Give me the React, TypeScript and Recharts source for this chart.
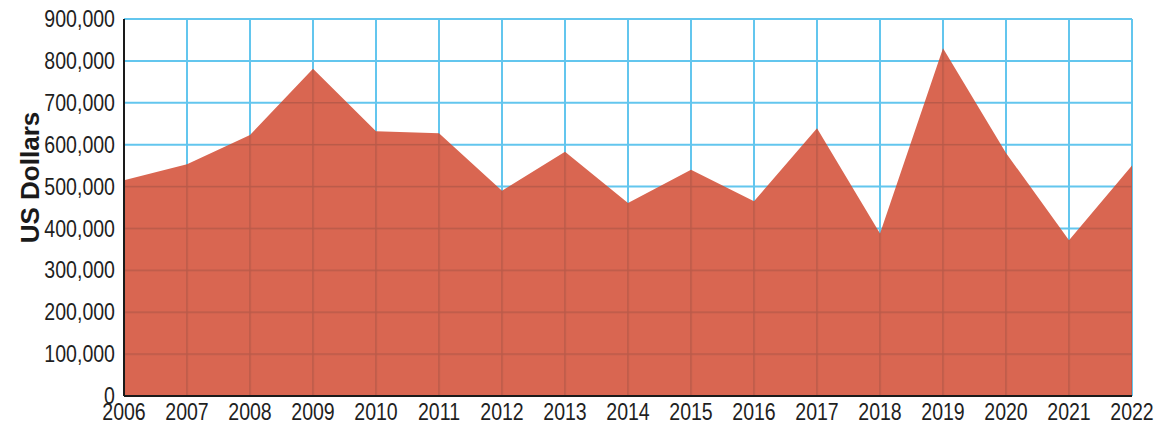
import React from "react";
import { AreaChart, Area, XAxis, YAxis, CartesianGrid } from "recharts";

const years = [
  "2006", "2007", "2008", "2009", "2010", "2011", "2012", "2013", "2014",
  "2015", "2016", "2017", "2018", "2019", "2020", "2021", "2022",
];
const dollars = [
  515000, 553000, 623000, 781000, 632000, 627000, 490000, 583000, 461000,
  540000, 465000, 639000, 388000, 830000, 580000, 372000, 550000,
];
const yTicks = [0, 100000, 200000, 300000, 400000, 500000, 600000, 700000, 800000, 900000];

const data = years.map((year, i) => ({ year, value: dollars[i] }));

const W = 1150;
const H = 420;
const M = { top: 11, right: 26, bottom: 0, left: 0 };
const Y_W = 116;
const X_H = 32;
const PW = W - M.left - M.right - Y_W;
const PH = H - M.top - M.bottom - X_H;
const CELL_W = PW / (years.length - 1);
const CELL_H = PH / (yTicks.length - 1);

const FILL = "#d96651";
const INNER_LINE = "#b95a49";
const GRID = "#63c6ee";
const FONT = "'Liberation Sans', Arial, sans-serif";
const SQUEEZE = 0.85;

const fmt = (v: number) => v.toLocaleString("en-US");

// condensed look: regular sans squeezed horizontally
const NarrowTick = ({ x, y, payload, textAnchor, dy, format }: any) => (
  <g transform={`translate(${x},${y})`}>
    <text
      transform={`scale(${SQUEEZE},1)`}
      textAnchor={textAnchor}
      dy={dy}
      fontFamily={FONT}
      fontSize={23}
      fill="#1f1f1f"
    >
      {format ? format(payload.value) : payload.value}
    </text>
  </g>
);

const AxisTitle = ({ viewBox }: any) => {
  const cx = viewBox.x + 22;
  const cy = viewBox.y + viewBox.height / 2 - 30;
  return (
    <text
      x={cx}
      y={cy}
      transform={`rotate(-90, ${cx}, ${cy})`}
      textAnchor="middle"
      dominantBaseline="central"
      fontFamily={FONT}
      fontWeight="bold"
      fontSize={26}
      fill="#1a1a1a"
    >
      US Dollars
    </text>
  );
};

export default function App() {
  return (
    <div style={{ width: W, height: H, background: "#fff" }}>
      <AreaChart width={W} height={H} data={data} margin={M} style={{ overflow: "visible" }}>
        <defs>
          <pattern
            id="areaGrid"
            patternUnits="userSpaceOnUse"
            x={M.left + Y_W - 0.75}
            y={M.top - 0.75}
            width={CELL_W}
            height={CELL_H}
          >
            <rect x={0} y={0} width={CELL_W} height={CELL_H} fill={FILL} />
            <rect x={0} y={0} width={1.5} height={CELL_H} fill={INNER_LINE} />
            <rect x={0} y={0} width={CELL_W} height={1.5} fill={INNER_LINE} />
          </pattern>
        </defs>
        <CartesianGrid stroke={GRID} strokeWidth={2} />
        <XAxis
          dataKey="year"
          height={X_H}
          tickLine={false}
          tickSize={0}
          tickMargin={8}
          interval={0}
          axisLine={{ stroke: "#1a1a1a", strokeWidth: 2 }}
          tick={<NarrowTick dy="0.71em" />}
        />
        <YAxis
          width={Y_W}
          domain={[0, 900000]}
          ticks={yTicks}
          tickLine={false}
          tickSize={0}
          tickMargin={9}
          interval={0}
          axisLine={{ stroke: "#1a1a1a", strokeWidth: 2 }}
          tick={<NarrowTick dy="0.355em" format={fmt} />}
          label={{ content: AxisTitle } as any}
        />
        <Area
          type="linear"
          dataKey="value"
          stroke="none"
          fill="url(#areaGrid)"
          fillOpacity={1}
          isAnimationActive={false}
          dot={false}
          activeDot={false}
        />
      </AreaChart>
    </div>
  );
}
